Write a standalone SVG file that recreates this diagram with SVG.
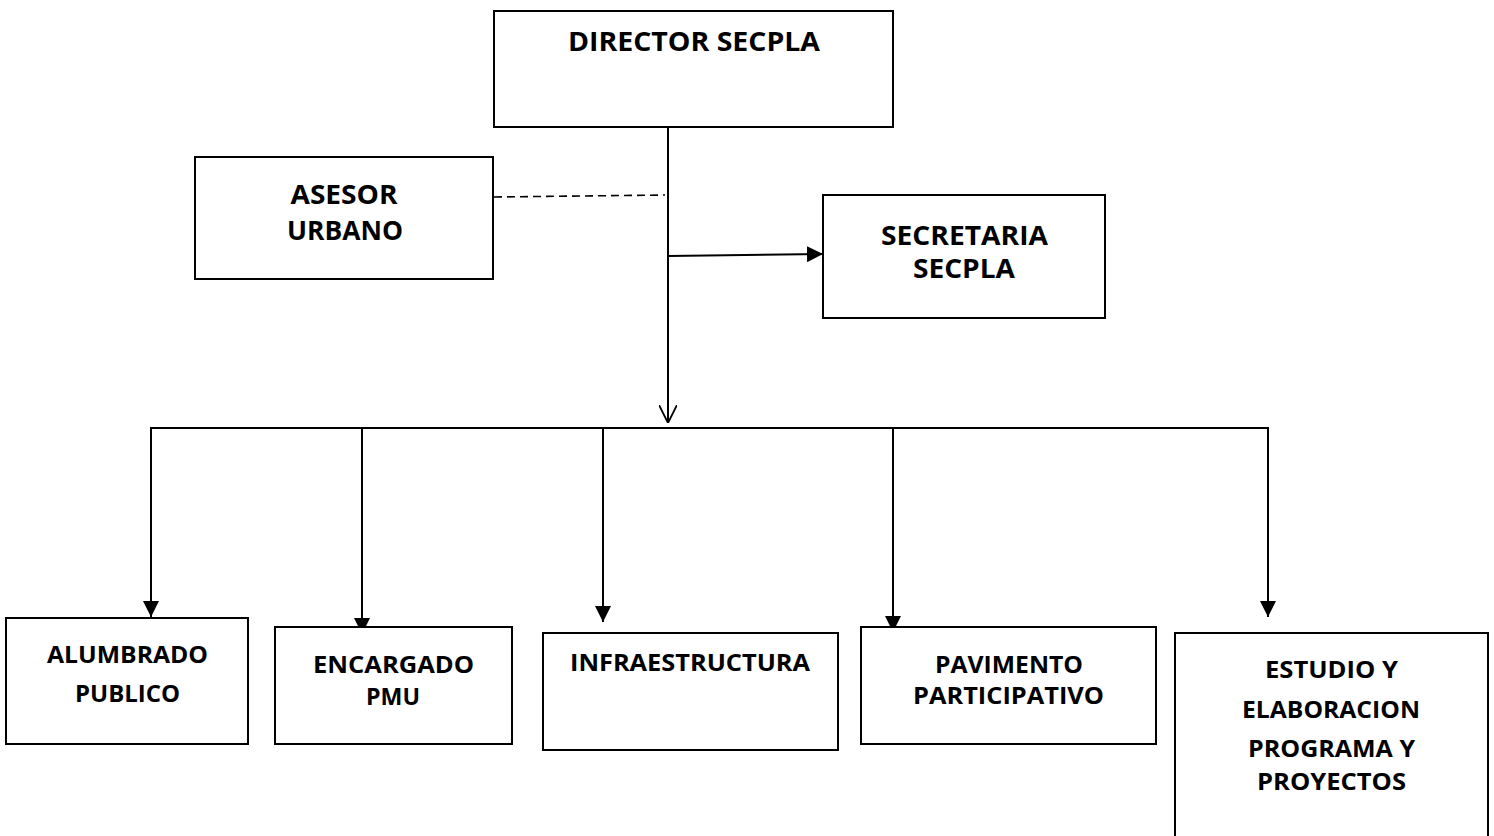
<svg xmlns="http://www.w3.org/2000/svg" width="1494" height="836" viewBox="0 0 1494 836">
<style>
.box{fill:#fff;stroke:#000;stroke-width:2}
.t{font-family:"Open Sans","DejaVu Sans",sans-serif;font-weight:700;font-size:26px;text-anchor:middle;fill:#000}
.s{font-size:24px}
.ln{fill:none;stroke:#000;stroke-width:2}
</style>
<defs>
<marker id="fa" viewBox="0 0 10 10" refX="10" refY="5" markerWidth="16" markerHeight="16" markerUnits="userSpaceOnUse" orient="auto"><path d="M0,0 L10,5 L0,10 z" fill="#000"/></marker>
<marker id="oa" viewBox="0 0 10 10" refX="10" refY="5" markerWidth="18" markerHeight="18" markerUnits="userSpaceOnUse" orient="auto"><path d="M0,0 L10,5 L0,10" fill="none" stroke="#000" stroke-width="1"/></marker>
</defs>
<g id="connectors">
<line class="ln" x1="668" y1="124" x2="668" y2="423" marker-end="url(#oa)"/>
<line class="ln" x1="494" y1="197" x2="665" y2="195" stroke-dasharray="8,5" style="stroke-width:1.6"/>
<line class="ln" x1="668" y1="256" x2="823" y2="254" marker-end="url(#fa)"/>
<line class="ln" x1="150" y1="428" x2="1269" y2="428"/>
<line class="ln" x1="151" y1="428" x2="151" y2="617" marker-end="url(#fa)"/>
<line class="ln" x1="362" y1="428" x2="362" y2="634" marker-end="url(#fa)"/>
<line class="ln" x1="603" y1="428" x2="603" y2="622" marker-end="url(#fa)"/>
<line class="ln" x1="893" y1="428" x2="893" y2="632" marker-end="url(#fa)"/>
<line class="ln" x1="1268" y1="428" x2="1268" y2="617" marker-end="url(#fa)"/>
</g>
<g id="director"><rect class="box" x="494" y="11" width="399" height="116"/><text class="t" x="694" y="51" textLength="252" lengthAdjust="spacingAndGlyphs">DIRECTOR SECPLA</text></g>
<g id="asesor"><rect class="box" x="195" y="157" width="298" height="122"/><text class="t" x="344" y="204" textLength="107" lengthAdjust="spacingAndGlyphs">ASESOR</text><text class="t" x="345" y="240" textLength="116" lengthAdjust="spacingAndGlyphs">URBANO</text></g>
<g id="secretaria"><rect class="box" x="823" y="195" width="282" height="123"/><text class="t" x="964.5" y="245" textLength="167" lengthAdjust="spacingAndGlyphs">SECRETARIA</text><text class="t" x="964" y="278" textLength="102" lengthAdjust="spacingAndGlyphs">SECPLA</text></g>
<g id="alumbrado"><rect class="box" x="6" y="618" width="242" height="126"/><text class="t s" x="127.5" y="663" textLength="161" lengthAdjust="spacingAndGlyphs">ALUMBRADO</text><text class="t s" x="127.5" y="702" textLength="105" lengthAdjust="spacingAndGlyphs">PUBLICO</text></g>
<g id="encargado"><rect class="box" x="275" y="627" width="237" height="117"/><text class="t s" x="393.5" y="673" textLength="161" lengthAdjust="spacingAndGlyphs">ENCARGADO</text><text class="t s" x="393" y="705" textLength="54" lengthAdjust="spacingAndGlyphs">PMU</text></g>
<g id="infraestructura"><rect class="box" x="543" y="633" width="295" height="117"/><text class="t s" x="690" y="671" textLength="240" lengthAdjust="spacingAndGlyphs">INFRAESTRUCTURA</text></g>
<g id="pavimento"><rect class="box" x="861" y="627" width="295" height="117"/><text class="t s" x="1009" y="673" textLength="148" lengthAdjust="spacingAndGlyphs">PAVIMENTO</text><text class="t s" x="1008.5" y="704" textLength="191" lengthAdjust="spacingAndGlyphs">PARTICIPATIVO</text></g>
<g id="estudio"><rect class="box" x="1175" y="633" width="313" height="215"/><text class="t s" x="1331.5" y="678" textLength="133" lengthAdjust="spacingAndGlyphs">ESTUDIO Y</text><text class="t s" x="1331" y="718" textLength="178" lengthAdjust="spacingAndGlyphs">ELABORACION</text><text class="t s" x="1331.5" y="757" textLength="167" lengthAdjust="spacingAndGlyphs">PROGRAMA Y</text><text class="t s" x="1331.5" y="790" textLength="149" lengthAdjust="spacingAndGlyphs">PROYECTOS</text></g>
</svg>
